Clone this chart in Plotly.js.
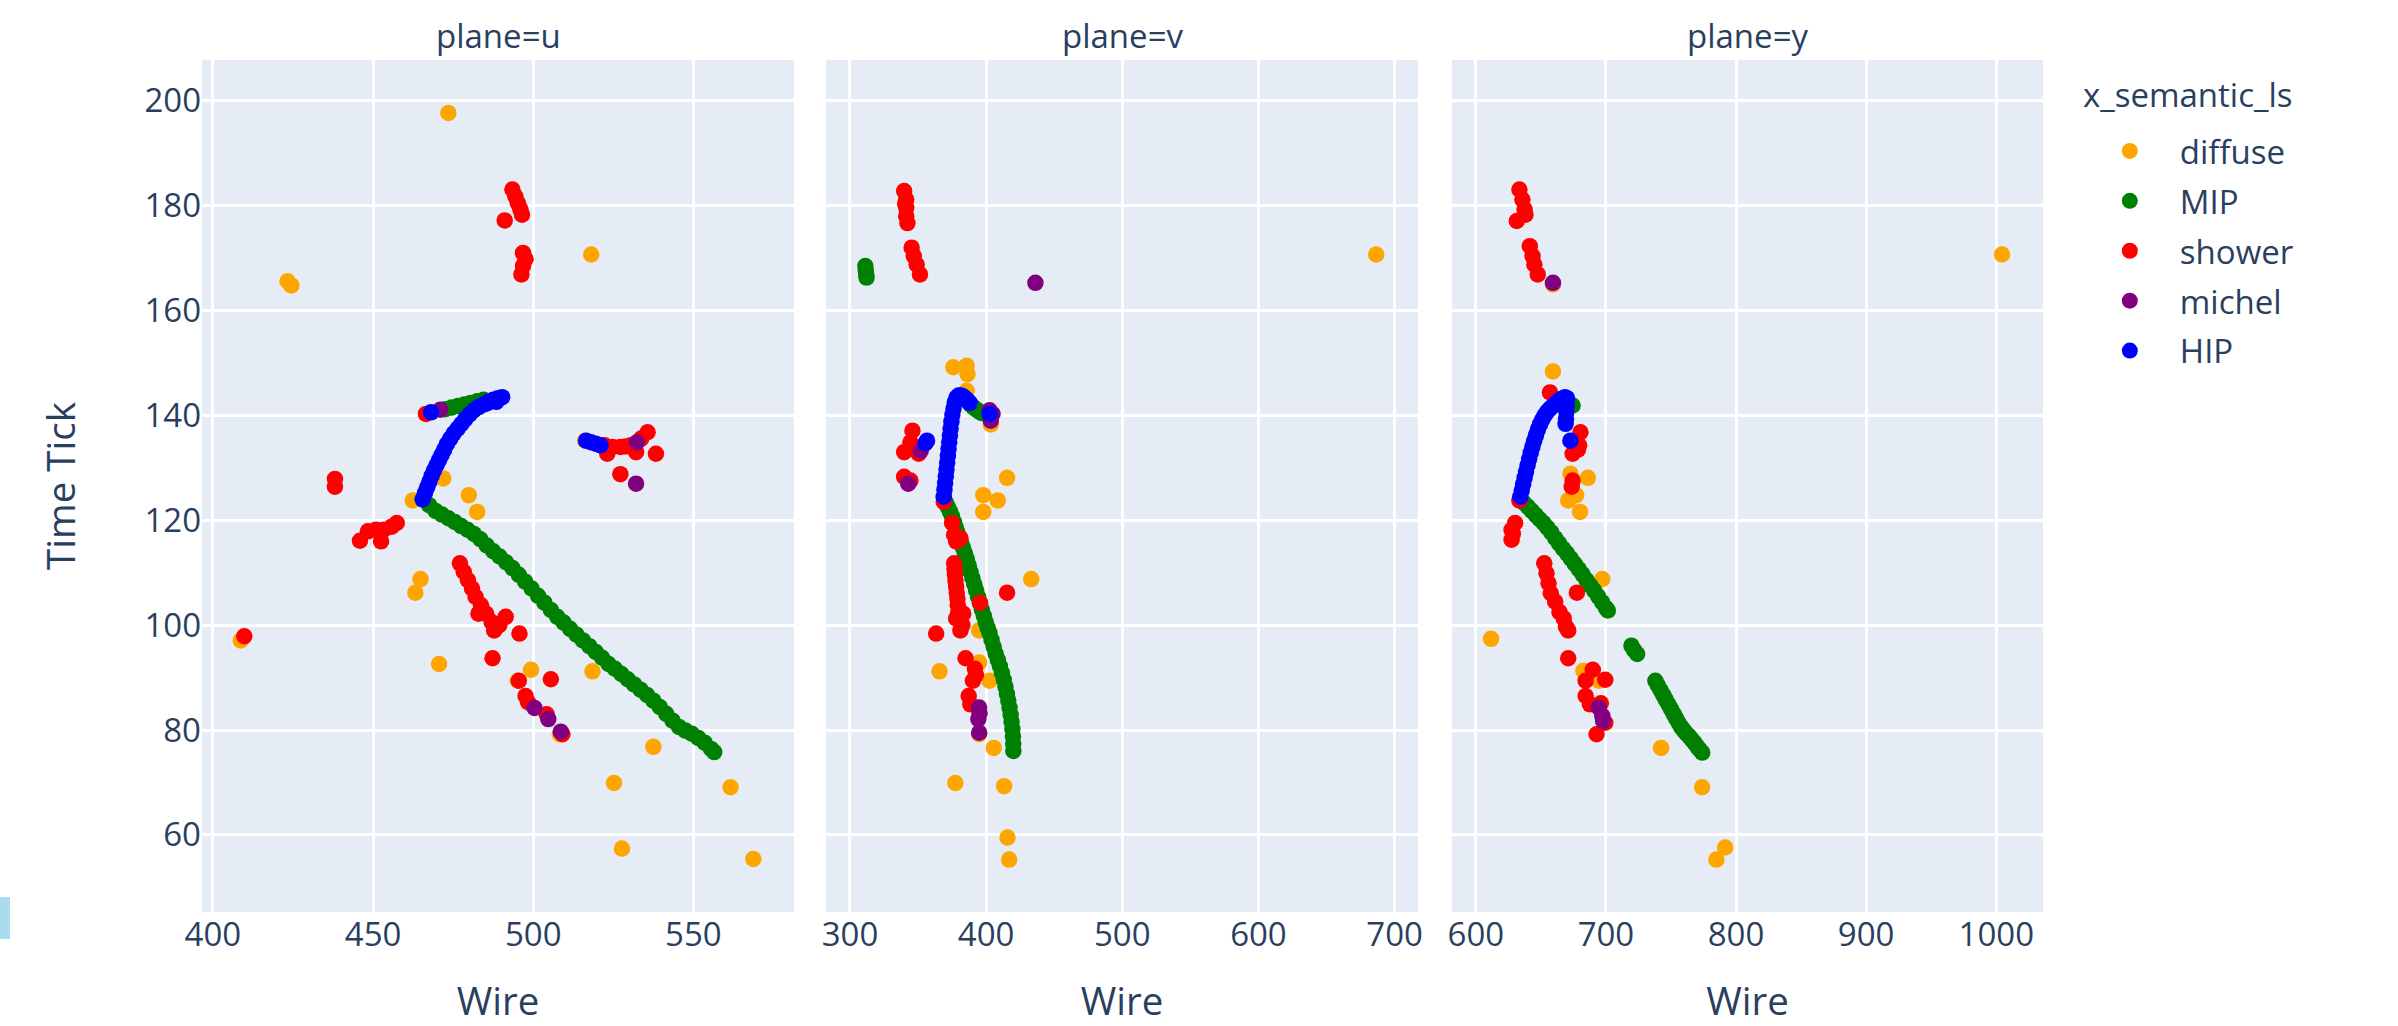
<!DOCTYPE html>
<html>
<head>
<meta charset="utf-8">
<script src="https://cdn.plot.ly/plotly-3.0.1.min.js"></script>
<style>
html,body{margin:0;padding:0;background:#fff;}
#chart{width:2398px;height:1026px;}
#mark{position:absolute;left:0;top:897px;width:10px;height:42px;background:#a9dcec;}
</style>
</head>
<body>
<div id="chart"></div>
<div id="mark"></div>
<script>
// ---------- categories ----------
const planes = ["u", "v", "y"];
const classes = ["diffuse", "MIP", "shower", "michel", "HIP"];
const classColors = ["orange", "green", "red", "purple", "blue"];
const legendTitle = "x_semantic_ls";

// ---------- plane u ----------
const u_diffuse_x = [473.5, 423.3, 424.5, 518.1, 462.4, 479.9, 482.5, 471.9, 464.8, 463.2, 470.6, 499.3, 495.2, 518.5, 537.5, 525.2, 561.6, 527.7, 568.7, 408.7, 508.3, 516.2];
const u_diffuse_y = [197.7, 165.6, 164.8, 170.7, 123.8, 124.8, 121.6, 128.0, 108.8, 106.2, 92.6, 91.5, 89.4, 91.2, 76.8, 69.9, 69.1, 57.4, 55.4, 97.1, 79.2, 135.2];

const u_MIP_x = [465.5, 467.5, 469.5, 471.5, 473.5, 475.5, 477.5, 479.5, 481.5, 483.5, 485.5, 487.5, 489.5, 491.5, 493.5, 495.5, 497.5, 499.5, 501.5, 503.5, 505.5, 507.5, 509.5, 511.5, 513.5, 515.5, 517.5, 519.5, 521.5, 523.5, 525.5, 527.5, 529.5, 531.5, 533.5, 535.5, 537.5, 539.5, 541.5, 543.5, 545.5, 547.5, 549.5, 551.5, 553.5, 555.5, 556.5,
                 472.5, 474.5, 476.5, 478.5, 480.5, 482.5, 484.5];
const u_MIP_y = [124.0, 122.9, 121.8, 121.1, 120.4, 119.7, 118.9, 118.2, 117.4, 116.4, 115.2, 114.1, 113.1, 112.0, 110.9, 109.6, 108.3, 107.0, 105.6, 104.3, 102.9, 101.6, 100.5, 99.3, 98.2, 97.1, 96.0, 94.9, 93.8, 92.6, 91.7, 90.7, 89.7, 88.7, 87.7, 86.7, 85.6, 84.4, 83.1, 81.8, 80.6, 79.9, 79.3, 78.5, 77.6, 76.4, 75.8,
                 141.2, 141.5, 141.8, 142.1, 142.4, 142.7, 143.0];

const u_shower_x = [493.5, 494.4, 495.2, 496.0, 496.5, 491.1, 496.8, 497.6, 496.8, 496.3, 438.1, 438.1, 522.3, 524.7, 527.2, 530.5, 532.1, 533.7, 535.7, 523.1, 538.3, 527.2, 466.5, 445.9, 448.4, 450.9, 453.3, 452.5, 455.8, 457.4, 477.1, 478.3, 479.6, 480.9, 482.0, 483.7, 482.9, 485.3, 487.0, 487.8, 489.4, 491.4, 495.7, 487.3, 495.5, 505.5, 497.6, 498.4, 504.2, 509.1, 409.8, 528.8];
const u_shower_y = [183.1, 181.8, 180.5, 179.3, 178.3, 177.2, 171.0, 169.8, 168.5, 166.9, 127.9, 126.4, 134.3, 134.0, 134.0, 134.3, 133.0, 135.6, 136.8, 132.7, 132.7, 128.8, 140.3, 116.1, 117.9, 118.2, 118.2, 116.0, 118.8, 119.5, 111.8, 110.2, 108.6, 107.0, 105.4, 103.8, 102.2, 102.2, 100.6, 99.0, 100.0, 101.6, 98.4, 93.7, 89.4, 89.7, 86.5, 85.3, 83.0, 79.2, 97.9, 134.1];

const u_michel_x = [471.0, 532.4, 532.1, 500.4, 504.7, 508.6];
const u_michel_y = [141.1, 134.9, 127.0, 84.2, 82.1, 79.7];

const u_HIP_x = [465.5, 466.2, 466.9, 467.6, 468.3, 469.0, 469.8, 470.6, 471.4, 472.2, 473.1, 474.1, 475.2, 476.4, 477.6, 478.8, 480.1, 481.5, 483.0, 484.5, 486.0, 487.5, 489.0, 490.3, 488.5, 485.5,
                 468.1, 516.5, 518.0, 519.5, 521.0];
const u_HIP_y = [124.0, 125.2, 126.3, 127.4, 128.5, 129.5, 130.5, 131.5, 132.5, 133.5, 134.6, 135.6, 136.6, 137.5, 138.4, 139.3, 140.2, 141.0, 141.6, 142.1, 142.6, 143.0, 143.3, 143.5, 142.6, 142.3,
                 140.6, 135.2, 134.9, 134.6, 134.3];

// ---------- plane v ----------
const v_diffuse_x = [686.5, 375.9, 385.7, 386.3, 385.7, 415.4, 397.9, 408.6, 397.9, 433.1, 394.9, 394.9, 365.8, 402.5, 394.9, 405.6, 377.4, 413.2, 415.7, 416.9, 403.5];
const v_diffuse_y = [170.7, 149.2, 149.5, 147.9, 144.7, 128.1, 124.8, 123.8, 121.6, 108.8, 99.0, 92.9, 91.2, 89.4, 79.2, 76.6, 69.9, 69.3, 59.5, 55.3, 138.3];

const v_MIP_x = [311.3, 311.6, 312.0, 312.2,
                 368.9, 370.5, 372.0, 373.4, 374.9, 376.3, 377.6, 378.9, 380.2, 381.6, 383.0, 384.4, 385.8, 387.2, 388.5, 389.9, 391.3, 392.7, 394.1, 395.5, 396.9, 398.3, 399.7, 401.1, 402.5, 404.0, 405.5, 407.0, 408.6, 410.1, 411.6, 413.0, 414.2, 415.3, 416.3, 417.2, 418.0, 418.7, 419.3, 419.7, 419.9, 420.0,
                 384.5, 386.5, 388.5, 390.5, 392.5, 394.5, 396.5, 398.5];
const v_MIP_y = [168.5, 167.6, 166.8, 166.3,
                 124.3, 123.4, 122.5, 121.7, 120.8, 119.7, 118.7, 117.7, 116.7, 115.7, 114.8, 113.7, 112.6, 111.4, 110.2, 109.0, 107.8, 106.6, 105.4, 104.2, 103.0, 101.8, 100.6, 99.5, 98.5, 97.2, 95.9, 94.6, 93.4, 92.2, 90.9, 89.6, 88.3, 86.9, 85.6, 84.3, 82.9, 81.6, 80.2, 78.8, 77.4, 76.0,
                 143.3, 142.7, 142.1, 141.6, 141.2, 140.8, 140.5, 140.4];

const v_shower_x = [339.8, 341.3, 341.3, 341.3, 342.2, 340.5, 345.3, 346.9, 349.0, 351.4, 345.9, 344.4, 339.8, 350.5, 348.0, 339.8, 344.4, 368.9, 375.0, 376.5, 381.1, 378.0, 376.5, 376.8, 377.1, 377.5, 378.0, 378.4, 378.9, 379.2, 379.6, 378.0, 383.2, 382.6, 381.1, 363.3, 415.4, 395.5, 384.9, 391.8, 392.5, 390.3, 387.2, 388.4];
const v_shower_y = [182.8, 181.2, 179.6, 178.0, 176.7, 180.4, 172.0, 170.4, 168.8, 166.9, 137.1, 134.9, 133.0, 132.7, 134.0, 128.3, 127.6, 123.5, 119.5, 117.2, 116.6, 116.0, 111.8, 110.7, 109.6, 108.5, 107.3, 106.2, 105.1, 103.8, 102.5, 101.3, 102.2, 100.0, 99.0, 98.4, 106.2, 104.3, 93.7, 91.7, 90.5, 89.4, 86.5, 84.9];

const v_michel_x = [436.2, 402.5, 404.7, 403.4, 352.0, 342.8, 394.9, 394.3, 394.9, 395.2];
const v_michel_y = [165.3, 141.0, 140.3, 139.0, 133.3, 127.0, 84.3, 82.1, 79.5, 83.2];

const v_HIP_x = [368.9, 369.4, 369.9, 370.4, 370.9, 371.4, 371.9, 372.4, 372.9, 373.4, 373.9, 374.5, 375.2, 376.0, 377.0, 378.2, 379.8, 381.5, 383.2, 384.9, 386.6, 388.0,
                 402.5, 356.6, 355.5];
const v_HIP_y = [124.5, 125.8, 127.1, 128.4, 129.7, 131.0, 132.3, 133.6, 134.9, 136.2, 137.5, 138.8, 140.1, 141.3, 142.5, 143.4, 143.8, 143.8, 143.6, 143.2, 142.8, 142.4,
                 140.3, 135.2, 134.7];

// ---------- plane y ----------
const y_diffuse_x = [1004.4, 659.3, 672.7, 686.1, 671.0, 677.1, 680.1, 659.3, 697.2, 611.7, 682.7, 694.5, 742.4, 773.9, 791.6, 784.9];
const y_diffuse_y = [170.7, 148.4, 128.9, 128.1, 123.8, 124.8, 121.6, 165.0, 108.8, 97.4, 91.3, 89.4, 76.6, 69.1, 57.6, 55.3];

const y_MIP_x = [634.0, 637.0, 640.0, 643.0, 646.0, 649.0, 652.0, 655.0, 658.0, 661.0, 664.0, 667.0, 670.0, 673.0, 676.0, 679.0, 682.0, 685.0, 688.0, 691.0, 694.0, 697.0, 700.0, 701.5,
                 719.6, 721.5, 724.0,
                 738.0, 740.0, 742.0, 744.0, 746.0, 748.0, 750.0, 752.0, 754.0, 756.0, 758.0, 760.0, 762.0, 764.0, 766.0, 768.0, 770.0, 772.0, 774.0,
                 674.4];
const y_MIP_y = [124.0, 123.3, 122.6, 121.8, 121.0, 120.2, 119.5, 118.6, 117.7, 116.6, 115.6, 114.6, 113.7, 112.7, 111.7, 110.7, 109.7, 108.6, 107.6, 106.6, 105.5, 104.4, 103.3, 102.8,
                 96.1, 95.3, 94.5,
                 89.4, 88.5, 87.6, 86.7, 85.8, 84.9, 84.0, 83.1, 82.2, 81.3, 80.5, 79.9, 79.3, 78.8, 78.2, 77.6, 76.9, 76.3, 75.7,
                 141.9];

const y_shower_x = [633.5, 635.8, 637.5, 638.2, 631.5, 641.5, 643.6, 645.0, 647.6, 657.0, 680.4, 679.4, 674.4, 678.5, 674.4, 673.7, 633.5, 630.2, 627.5, 627.5, 628.5, 652.6, 654.3, 655.9, 657.6, 661.0, 664.3, 667.6, 669.3, 671.0, 677.7, 671.0, 689.9, 684.4, 699.5, 684.4, 687.7, 696.1, 699.5, 692.8];
const y_shower_y = [183.1, 181.2, 179.3, 178.3, 177.1, 172.3, 170.4, 168.8, 166.9, 144.4, 136.8, 134.3, 132.7, 133.5, 127.6, 126.4, 123.8, 119.5, 118.2, 116.3, 117.5, 111.8, 109.9, 108.0, 106.1, 104.5, 102.5, 101.3, 99.7, 99.0, 106.2, 93.7, 91.5, 89.4, 89.6, 86.5, 84.9, 85.1, 81.4, 79.2];

const y_michel_x = [659.3, 694.5, 697.2, 697.9];
const y_michel_y = [165.3, 84.3, 82.7, 81.7];

const y_HIP_x = [634.2, 635.3, 636.4, 637.5, 638.6, 639.8, 641.0, 642.2, 643.5, 644.8, 646.2, 647.7, 649.3, 651.0, 652.8, 654.8, 657.0, 659.3, 661.5, 663.8, 666.2, 668.5, 670.0, 670.0, 669.6, 669.3, 669.0,
                 672.7];
const y_HIP_y = [124.5, 125.7, 126.9, 128.1, 129.3, 130.5, 131.7, 132.9, 134.0, 135.1, 136.2, 137.3, 138.3, 139.2, 140.0, 140.7, 141.3, 141.8, 142.3, 142.8, 143.2, 143.5, 143.3, 142.0, 140.7, 139.4, 138.4,
                 135.2];

// ---------- axis ticks ----------
const xTickStep = [50, 100, 100];
const yTickStep = 20;

const dataSets = {
  u: {diffuse: [u_diffuse_x, u_diffuse_y], MIP: [u_MIP_x, u_MIP_y], shower: [u_shower_x, u_shower_y], michel: [u_michel_x, u_michel_y], HIP: [u_HIP_x, u_HIP_y]},
  v: {diffuse: [v_diffuse_x, v_diffuse_y], MIP: [v_MIP_x, v_MIP_y], shower: [v_shower_x, v_shower_y], michel: [v_michel_x, v_michel_y], HIP: [v_HIP_x, v_HIP_y]},
  y: {diffuse: [y_diffuse_x, y_diffuse_y], MIP: [y_MIP_x, y_MIP_y], shower: [y_shower_x, y_shower_y], michel: [y_michel_x, y_michel_y], HIP: [y_HIP_x, y_HIP_y]}
};

const S = 2.75; // overall scale of the reference figure
const traces = [];
classes.forEach((cls, ci) => {
  planes.forEach((p, pi) => {
    const d = dataSets[p][cls];
    traces.push({
      type: "scatter", mode: "markers",
      x: d[0], y: d[1],
      name: cls, legendgroup: cls, showlegend: pi === 0,
      xaxis: pi === 0 ? "x" : "x" + (pi + 1),
      yaxis: pi === 0 ? "y" : "y" + (pi + 1),
      marker: {color: classColors[ci], size: 6 * S},
      hoverinfo: "x+y+name"
    });
  });
});

const W = 2398, H = 1026;
const L = 202, R = 355, T = 60, B = 114;
const plotW = W - L - R, plotH = H - T - B;
const pix = (a, b) => [(a - L) / plotW, (b - L) / plotW];
const doms = [pix(202, 794), pix(826, 1418), pix(1452, 2043)];
const xRanges = [[396.6, 581.4], [282.4, 717.2], [581.7, 1035.9]];
const yRange = [45.3, 207.8];

const fontColor = "#2a3f5f";
const tickFont = {size: 12 * S, color: fontColor};
const titleFont = {size: 14 * S, color: fontColor};

const annotations = planes.map((p, i) => ({
  text: "plane=" + p, showarrow: false,
  xref: "paper", yref: "paper",
  x: (doms[i][0] + doms[i][1]) / 2, y: 1,
  xanchor: "center", yanchor: "bottom",
  font: {size: 12 * S, color: fontColor}
}));
// legend title
annotations.push({
  text: legendTitle, showarrow: false,
  xref: "paper", yref: "paper",
  x: (2081 - L) / plotW, y: (H - B - 95) / plotH,
  xanchor: "left", yanchor: "middle",
  font: {size: 12 * S, color: fontColor}
});

const layout = {
  width: W, height: H,
  margin: {l: L, r: R, t: T, b: B, pad: 0},
  paper_bgcolor: "white",
  plot_bgcolor: "#E5ECF6",
  font: {family: "'Open Sans', verdana, arial, sans-serif", size: 12 * S, color: fontColor},
  showlegend: true,
  legend: {
    font: {size: 12 * S, color: fontColor},
    x: 1.02, y: (H - B - 123) / plotH, xanchor: "left", yanchor: "top",
    itemwidth: 90, tracegroupgap: 4
  },
  annotations: annotations
};

planes.forEach((p, i) => {
  const xk = i === 0 ? "xaxis" : "xaxis" + (i + 1);
  const yk = i === 0 ? "yaxis" : "yaxis" + (i + 1);
  layout[xk] = {
    domain: doms[i], range: xRanges[i], anchor: i === 0 ? "y" : "y" + (i + 1),
    dtick: xTickStep[i], tick0: 0,
    gridcolor: "white", gridwidth: S, zeroline: false, showline: false, ticks: "",
    tickfont: tickFont,
    title: {text: "Wire", font: titleFont},
    automargin: false
  };
  layout[yk] = {
    domain: [0, 1], range: yRange, anchor: i === 0 ? "x" : "x" + (i + 1),
    dtick: yTickStep, tick0: 0,
    gridcolor: "white", gridwidth: S, zeroline: false, showline: false, ticks: "",
    tickfont: tickFont,
    showticklabels: i === 0,
    title: i === 0 ? {text: "Time Tick", font: titleFont, standoff: 56} : {text: ""},
    automargin: false
  };
  if (i > 0) layout[yk].matches = "y";
});

Plotly.newPlot("chart", traces, layout, {displayModeBar: false, responsive: false});
</script>
</body>
</html>
